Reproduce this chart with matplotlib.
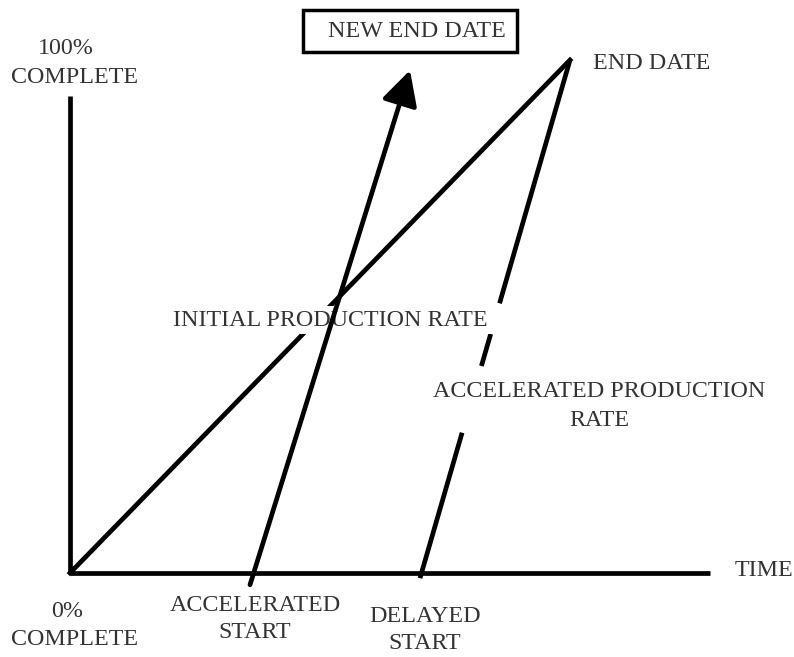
import matplotlib.pyplot as plt
from matplotlib.patches import FancyArrowPatch, Rectangle

# Data: time (arbitrary units) vs percent complete
axis_time = [0, 12.8]
axis_pct = [0, 93]

initial_time = [0, 10]
initial_pct = [0, 100]

accel_time = [3.6, 6.8]
accel_pct = [-2.3, 98]

delayed_time = [7.0, 10]
delayed_pct = [-1, 100]

plt.rcParams['font.family'] = ['Liberation Serif', 'DejaVu Serif']
plt.rcParams['lines.scale_dashes'] = False
TXT = '#333333'
FS = 17.3
LW = 3.4

fig = plt.figure(figsize=(7.94, 6.57), dpi=100)
ax = fig.add_axes([0, 0, 1, 1])
ax.set_xlim(-1.4, 14.48)
ax.set_ylim(-84 / 5.13, 573 / 5.13)
ax.axis('off')

# axes of the diagram
ax.plot([0, 0], axis_pct, color='black', lw=LW, solid_capstyle='butt', zorder=1)
ax.plot(axis_time, [0, 0], color='black', lw=LW, solid_capstyle='butt', zorder=1)

# production lines
ax.plot(initial_time, initial_pct, color='black', lw=LW, zorder=1)
# broken where the labels cross it
ax.plot(delayed_time, delayed_pct, color='black', lw=LW, zorder=1,
        dash_capstyle='butt', linestyle=(0, (109, 50, 24, 23, 220, 10)))
arrow = FancyArrowPatch((accel_time[0], accel_pct[0]), (accel_time[1], accel_pct[1]),
                        arrowstyle='-|>,head_length=21,head_width=11', mutation_scale=1,
                        lw=LW, color='black', shrinkA=0, shrinkB=0, zorder=3)
ax.add_patch(arrow)

ax.text(-0.08, 102.3, '100%', fontsize=FS, color=TXT, ha='center', va='center')
ax.text(0.1, 96.5, 'COMPLETE', fontsize=FS, color=TXT, ha='center', va='center')
ax.text(-0.05, -7.6, '0%', fontsize=FS, color=TXT, ha='center', va='center')
ax.text(0.1, -13.06, 'COMPLETE', fontsize=FS, color=TXT, ha='center', va='center')
ax.text(3.7, -8.9, 'ACCELERATED\nSTART', fontsize=FS, color=TXT, ha='center',
        va='center', linespacing=1.38)
ax.text(7.1, -11.1, 'DELAYED\nSTART', fontsize=FS, color=TXT, ha='center',
        va='center', linespacing=1.34)
ax.text(5.2, 49.3, 'INITIAL PRODUCTION RATE', fontsize=FS, color=TXT, ha='center',
        va='center', bbox=dict(fc='white', ec='none', pad=2.5), zorder=2)
ax.text(10.58, 32.6, 'ACCELERATED PRODUCTION\nRATE', fontsize=FS, color=TXT,
        ha='center', va='center', linespacing=1.52, zorder=2)
ax.text(10.46, 99.4, 'END DATE', fontsize=FS, color=TXT, ha='left', va='center')
ax.text(13.3, 0.4, 'TIME', fontsize=FS, color=TXT, ha='left', va='center')

ax.add_patch(Rectangle((4.66, 101.6), 4.28, 8.1, fill=False, ec='black', lw=2.5, zorder=4))
ax.text(5.16, 105.6, 'NEW END DATE', fontsize=FS, color=TXT, ha='left', va='center', zorder=4)

fig.savefig('out.png', dpi=100, facecolor='white')
